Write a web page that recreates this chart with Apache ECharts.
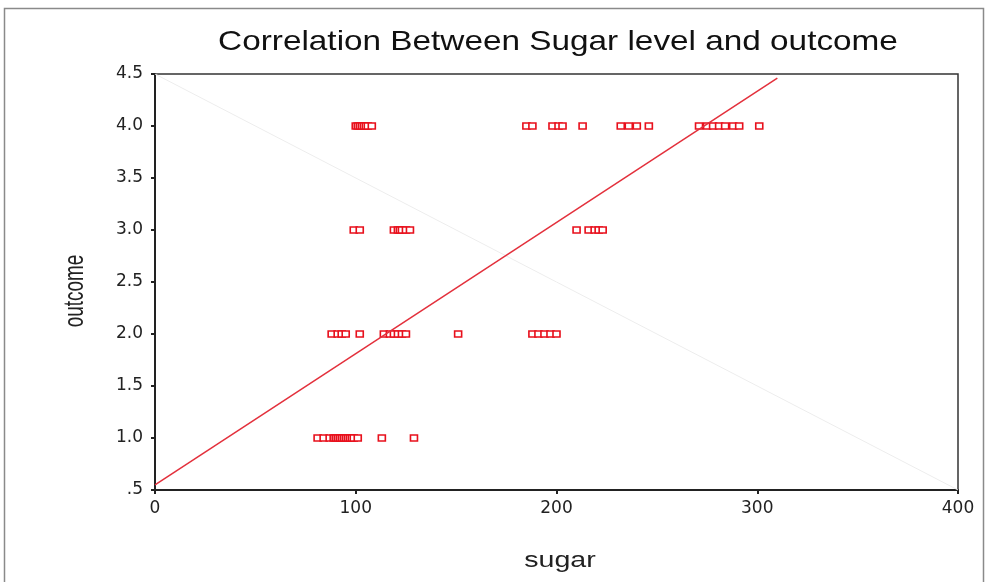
<!DOCTYPE html>
<html>
<head>
<meta charset="utf-8">
<script src="https://cdn.jsdelivr.net/npm/echarts@6/dist/echarts.min.js"></script>
<style>
  html, body { margin: 0; padding: 0; background: #fff; }
  #chart { width: 987px; height: 582px; }
</style>
</head>
<body>
<div id="chart"></div>
<script>
// Sugar level readings grouped by outcome class
const sugarOutcome4 = [100, 101, 102, 103, 104, 105, 106, 108, 185, 188, 198, 201, 203, 213, 232, 236, 240, 246, 271, 275, 278, 281, 284, 288, 291, 301];
const sugarOutcome3 = [99, 102, 119, 121, 122, 123, 125, 127, 210, 216, 219, 221, 223];
const sugarOutcome2 = [88, 91, 93, 95, 102, 114, 117, 119, 121, 123, 125, 151, 188, 191, 194, 197, 200];
const sugarOutcome1 = [81, 84, 87, 89, 90, 91, 92, 93, 94, 95, 96, 97, 98, 99, 101, 113, 129];
const outcomeLevels = [4, 3, 2, 1];

// Fitted line endpoints (sugar, outcome)
const fitLine = [[0, 0.55], [310, 4.46]];
// Reference diagonal across the plot area
const diagonal = [[0, 4.5], [400, 0.5]];

const xTicks = [0, 100, 200, 300, 400];
const yTickLabels = { '0.5': '.5', '1': '1.0', '1.5': '1.5', '2': '2.0', '2.5': '2.5', '3': '3.0', '3.5': '3.5', '4': '4.0', '4.5': '4.5' };

const titleText = 'Correlation Between Sugar level and outcome';
const xName = 'sugar';
const yName = 'outcome';

const groups = [sugarOutcome4, sugarOutcome3, sugarOutcome2, sugarOutcome1];
const points = [];
groups.forEach((g, i) => g.forEach(s => points.push([s, outcomeLevels[i]])));

const FONT = 'Liberation Sans, Arial, sans-serif';
const TICK_FONT = 'DejaVu Sans, sans-serif';
const chart = echarts.init(document.getElementById('chart'), null, { renderer: 'canvas' });

chart.setOption({
  backgroundColor: '#fff',
  animation: false,
  grid: { left: 155, right: 29, top: 74, bottom: 92, show: true, borderColor: '#333', borderWidth: 1.5 },
  xAxis: {
    type: 'value', min: xTicks[0], max: xTicks[xTicks.length - 1], interval: 100,
    axisLine: { lineStyle: { color: '#222', width: 2 } },
    axisTick: { show: true, length: 4, lineStyle: { color: '#222', width: 2 } },
    axisLabel: { fontFamily: TICK_FONT, fontSize: 17, color: '#222', margin: 10 },
    splitLine: { show: false }
  },
  yAxis: {
    type: 'value', min: 0.5, max: 4.5, interval: 0.5,
    axisLine: { lineStyle: { color: '#222', width: 2 } },
    axisTick: { show: true, length: 4, lineStyle: { color: '#222', width: 2 } },
    axisLabel: { fontFamily: TICK_FONT, fontSize: 17, color: '#222', margin: 12,
      formatter: v => yTickLabels[String(v)] || String(v) },
    splitLine: { show: false }
  },
  series: [
    {
      type: 'line', data: diagonal, symbol: 'none', silent: true,
      lineStyle: { color: '#ededed', width: 1 }
    },
    {
      type: 'line', data: fitLine, symbol: 'none', silent: true,
      lineStyle: { color: '#e3303c', width: 1.5 }
    },
    {
      type: 'scatter', data: points, symbol: 'rect', symbolSize: [7, 6],
      itemStyle: { color: '#fff', borderColor: '#e8101c', borderWidth: 1.5, opacity: 1 }
    }
  ],
  graphic: [
    {
      type: 'rect', shape: { x: 4.5, y: 8.5, width: 979, height: 580 },
      style: { fill: 'none', stroke: '#8a8a8a', lineWidth: 1.5 }, silent: true
    },
    {
      type: 'text', x: 558, y: 42, scaleX: 1.19, scaleY: 1,
      style: { text: titleText, fontFamily: FONT, fontSize: 28, fill: '#111', align: 'center', verticalAlign: 'middle' },
      silent: true
    },
    {
      type: 'text', x: 560, y: 561, scaleX: 1.3, scaleY: 1,
      style: { text: xName, fontFamily: FONT, fontSize: 22, fill: '#222', align: 'center', verticalAlign: 'middle' },
      silent: true
    },
    {
      type: 'text', x: 75, y: 291, rotation: Math.PI / 2, scaleX: 0.9, scaleY: 1.3,
      style: { text: yName, fontFamily: FONT, fontSize: 21, fill: '#222', align: 'center', verticalAlign: 'middle' },
      silent: true
    }
  ]
});
</script>
</body>
</html>
